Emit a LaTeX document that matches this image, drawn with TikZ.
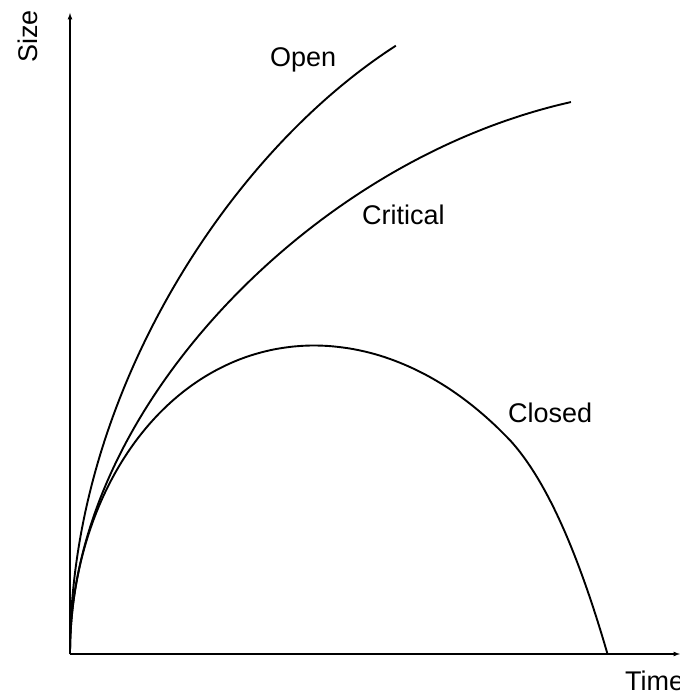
\documentclass[tikz,border=0pt]{standalone}
\usepackage{fontspec}
\setmainfont{Liberation Sans}
\usepackage{tikz}
\usetikzlibrary{arrows, positioning}

\tikzset{
  axis/.style={->, line width=1.2pt},
  curve/.style={line width=1.9pt, line join=round},
  lbl/.style={anchor=base west, inner sep=0pt, font=\fontsize{27}{30}\selectfont}
}

\begin{document}
\begin{tikzpicture}[>=latex, x=1pt, y=1pt]
  \useasboundingbox (-70,-40) rectangle (610,654);

  \coordinate (origin) at (0,0);
  \coordinate (xend) at (610,0);
  \coordinate (yend) at (0,641);
  \coordinate (bigcrunch) at (537.5,0);

  \draw[axis] (origin) -- (xend);
  \draw[axis] (origin) -- (yend);

  \node[lbl] (time) at (555,-36) {Time};
  \node[lbl, rotate=90] (size) at (-33,591) {Size};

  % open and critical, x = t^2 (in 100pt)
  \draw[curve] plot[smooth, domain=0:1.8055, samples=60]
    ({100*\x*\x}, {10*\x*(36.3-0.245*\x^4)});
  \draw[curve] plot[smooth, domain=0:2.2383, samples=60]
    ({100*\x*\x}, {10*\x*(28.3-0.145*\x^4)});
  % closed
  \draw[curve] plot[smooth, domain=0:2.0976, samples=70]
    ({100*\x*\x}, {284*\x*(1-\x*\x/5.37)^0.6})
    .. controls (472.3,178.5) and (504.7,113.2) .. (bigcrunch);

  \node[lbl] (open) at (200,587) {Open};
  \node[lbl] (critical) at (292,429) {Critical};
  \node[lbl] (closed) at (438,231) {Closed};
\end{tikzpicture}
\end{document}
